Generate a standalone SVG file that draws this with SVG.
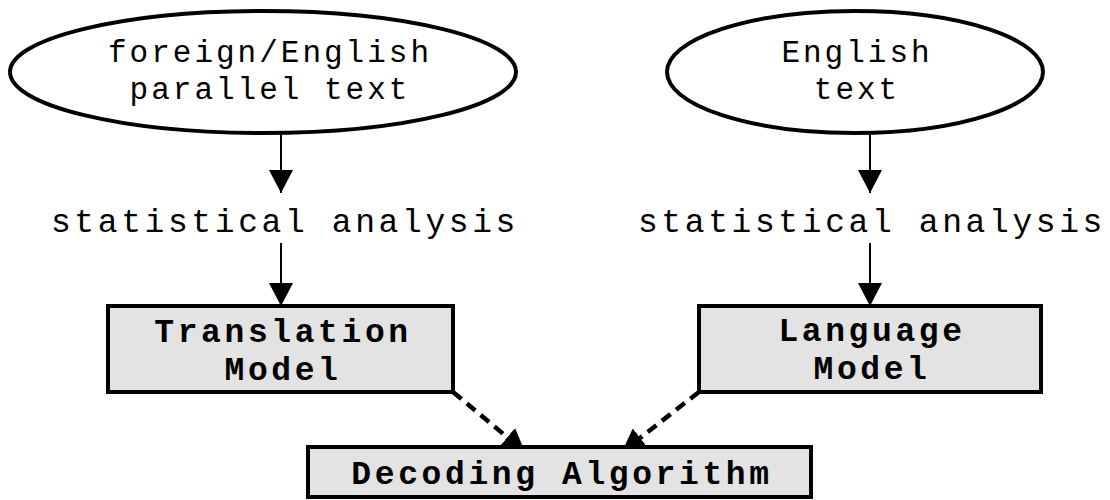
<svg xmlns="http://www.w3.org/2000/svg" width="1110" height="500" viewBox="0 0 1110 500">
<style>
.ell{fill:#fff;stroke:#000;stroke-width:4}
.box{fill:#e3e3e3;stroke:#000;stroke-width:4}
.t{font-family:"Liberation Mono","Courier New",monospace;fill:#000;text-anchor:middle}
.e{font-size:31px;letter-spacing:3px}
.s{font-size:33px;letter-spacing:3.6px}
.b{font-size:33px;letter-spacing:3.6px;font-weight:bold}
.solid{stroke:#000;stroke-width:2;fill:none}
.dash{stroke:#000;stroke-width:4.5;fill:none;stroke-dasharray:11 7}
</style>
<defs>
<marker id="ah" viewBox="0 0 23 24" refX="23" refY="12" markerWidth="23" markerHeight="24" markerUnits="userSpaceOnUse" orient="auto">
<path d="M0,0 L23,12 L0,24 z" fill="#000"/>
</marker>
</defs>
<g id="connectors">
<line class="solid" x1="281" y1="133" x2="281" y2="193" marker-end="url(#ah)"/>
<line class="solid" x1="281" y1="243" x2="281" y2="306" marker-end="url(#ah)"/>
<line class="solid" x1="870" y1="133" x2="870" y2="193" marker-end="url(#ah)"/>
<line class="solid" x1="870" y1="243" x2="870" y2="306" marker-end="url(#ah)"/>
<line class="dash" x1="453" y1="392" x2="525" y2="452" marker-end="url(#ah)"/>
<line class="dash" x1="699" y1="392" x2="622" y2="452" marker-end="url(#ah)"/>
</g>
<g id="parallel-text">
<ellipse class="ell" cx="263" cy="72" rx="253" ry="61"/>
<text class="t e" x="270" y="62">foreign/English</text>
<text class="t e" x="270" y="99">parallel text</text>
</g>
<g id="english-text">
<ellipse class="ell" cx="855" cy="72" rx="188" ry="61"/>
<text class="t e" x="857" y="62">English</text>
<text class="t e" x="857" y="99">text</text>
</g>
<g id="analysis-left">
<text class="t s" x="285" y="232">statistical analysis</text>
</g>
<g id="analysis-right">
<text class="t s" x="872" y="232">statistical analysis</text>
</g>
<g id="translation-model">
<rect class="box" x="108" y="306" width="345" height="86"/>
<text class="t b" x="283" y="342">Translation</text>
<text class="t b" x="283" y="380">Model</text>
</g>
<g id="language-model">
<rect class="box" x="699" y="306" width="342" height="86"/>
<text class="t b" x="872" y="341">Language</text>
<text class="t b" x="872" y="379">Model</text>
</g>
<g id="decoding-algorithm">
<rect class="box" x="308" y="447" width="503" height="50"/>
<text class="t b" x="562" y="484">Decoding Algorithm</text>
</g>
</svg>
